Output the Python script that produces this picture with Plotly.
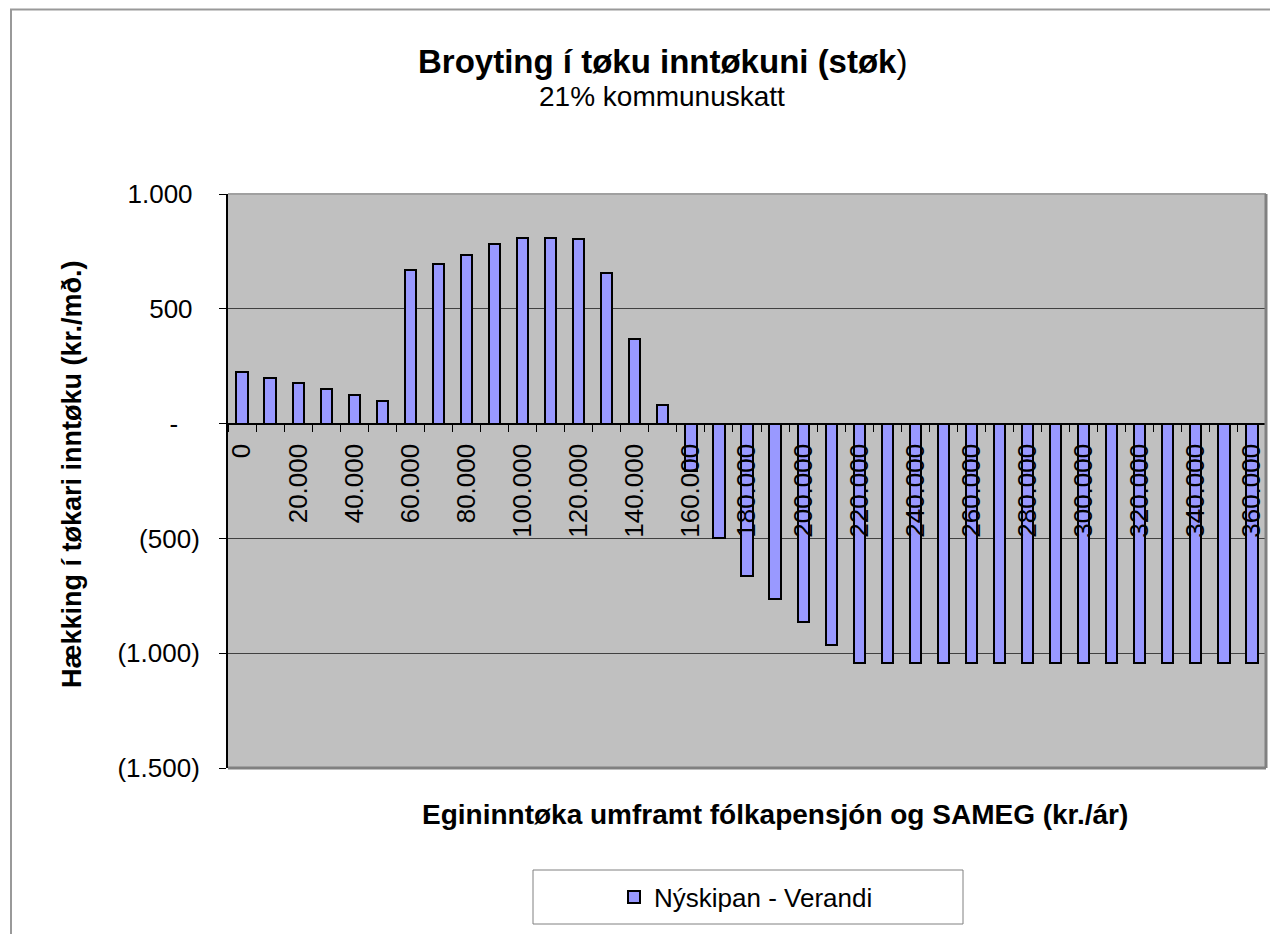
import plotly.graph_objects as go

income = [i * 10000 for i in range(37)]
change = [225, 199, 175, 149, 125, 100, 671, 697, 733, 781, 810, 809, 806, 657, 370, 81,
          -205, -500, -664, -764, -863, -965,
          -1042, -1042, -1042, -1042, -1042, -1042, -1042, -1042, -1042, -1042, -1042,
          -1042, -1042, -1042, -1042]
xtick_vals = [i * 20000 for i in range(19)]
xtick_text = ["0"] + [f"{v // 1000}.000" for v in xtick_vals[1:]]
ytick_vals = [1000, 500, 0, -500, -1000, -1500]
ytick_text = ["1.000\u00a0", "500\u00a0", "-\u00a0\u00a0\u00a0", "(500)", "(1.000)", "(1.500)"]

OFF = 8  # page body margin
W, H = 1278 - OFF, 934 - OFF
L, R, T, B = 228, 1266, 194, 768  # plot area in screen coordinates
FONT = "Liberation Sans, Arial, sans-serif"


def px(x):
    return (x - L) / (R - L)


def py(y):
    return (B - y) / (B - T)


fig = go.Figure()
fig.add_trace(go.Bar(
    x=income, y=change, width=4000, name="Nýskipan - Verandi",
    marker=dict(color="#9999FF", line=dict(color="black", width=2)),
))

fig.update_layout(
    width=W, height=H,
    margin=dict(l=L - OFF, r=(W + OFF) - R, t=T - OFF, b=(H + OFF) - B, pad=0),
    paper_bgcolor="white", plot_bgcolor="#C0C0C0",
    font=dict(family=FONT, color="black", size=26),
    bargap=0,
    showlegend=True,
    legend=dict(x=px(614), y=py(897), xanchor="left", yanchor="middle",
                bgcolor="rgba(0,0,0,0)", borderwidth=0, font=dict(size=26)),
    xaxis=dict(
        range=[-5000, 365000], tickmode="array", tickvals=xtick_vals, ticktext=xtick_text,
        tickangle=-90, anchor="free", position=0.6, showgrid=False, zeroline=False,
        ticks="", showline=False, tickfont=dict(size=26), ticklabelstandoff=14,
        minor=dict(tickmode="linear", tick0=5000, dtick=10000, ticks="outside",
                   ticklen=7, tickcolor="black", showgrid=False),
    ),
    yaxis=dict(
        range=[-1500, 1000], tickmode="array", tickvals=ytick_vals, ticktext=ytick_text,
        showgrid=True, gridcolor="#404040", gridwidth=1, zeroline=True,
        zerolinecolor="black", zerolinewidth=2,
        ticks="outside", ticklen=7, tickcolor="black", showline=True,
        linecolor="black", linewidth=2, tickfont=dict(size=26), ticklabelstandoff=14,
    ),
    shapes=[
        dict(type="rect", xref="paper", yref="paper", x0=px(11), x1=px(1300),
             y0=py(960), y1=py(9.5), line=dict(color="#999999", width=2), layer="below"),
        dict(type="line", xref="paper", yref="paper", x0=0, x1=1, y0=1, y1=1,
             line=dict(color="#A0A0A0", width=2)),
        dict(type="line", xref="paper", yref="paper", x0=1, x1=1, y0=0, y1=1,
             line=dict(color="#808080", width=3)),
        dict(type="line", xref="paper", yref="paper", x0=0, x1=1, y0=0, y1=0,
             line=dict(color="#808080", width=3)),
        dict(type="rect", xref="paper", yref="paper", x0=px(533), x1=px(963),
             y0=py(924), y1=py(870), line=dict(color="#808080", width=1)),
    ],
    annotations=[
        dict(text="<b>Broyting í tøku inntøkuni (støk</b>)", xref="paper", yref="paper",
             x=px(662), y=py(62), xanchor="center", yanchor="middle", showarrow=False,
             font=dict(size=33)),
        dict(text="21% kommunuskatt", xref="paper", yref="paper",
             x=px(662), y=py(97), xanchor="center", yanchor="middle", showarrow=False,
             font=dict(size=28)),
        dict(text="<b>Hækking í tøkari inntøku (kr./mð.)</b>", xref="paper", yref="paper",
             x=px(72), y=py(474), xanchor="center", yanchor="middle", showarrow=False,
             textangle=-90, font=dict(size=27)),
        dict(text="<b>Egininntøka umframt fólkapensjón og SAMEG (kr./ár)</b>", xref="paper",
             yref="paper", x=px(775), y=py(815), xanchor="center", yanchor="middle",
             showarrow=False, font=dict(size=28)),
    ],
)

fig.write_html("out.html")
